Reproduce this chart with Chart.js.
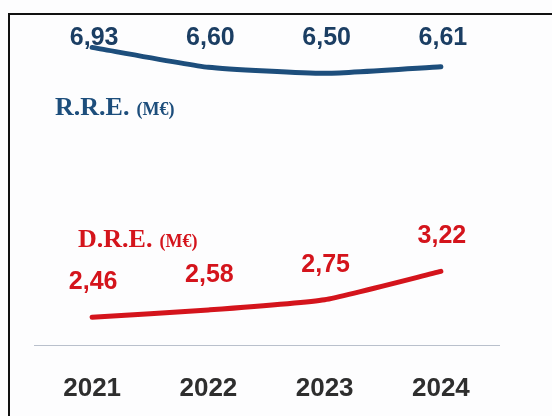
<!DOCTYPE html>
<html>
<head>
<meta charset="utf-8">
<script src="https://cdn.jsdelivr.net/npm/chart.js@4/dist/chart.umd.min.js"></script>
<style>
html,body{margin:0;padding:0;background:#fff;}
#wrap{width:552px;height:416px;position:relative;}
</style>
</head>
<body>
<div id="wrap"><canvas id="c" width="552" height="416"></canvas></div>
<script>
const years = ["2021", "2022", "2023", "2024"];
const rreValues = [6.93, 6.60, 6.50, 6.61];
const dreValues = [2.46, 2.58, 2.75, 3.22];
const rreTitle = "R.R.E.";
const dreTitle = "D.R.E.";
const unitLabel = "(M€)";

const BLUE = "#1d4e7c";
const BLUE_TXT = "#1b3e63";
const RED = "#d4141c";

function fmt(v){ return v.toFixed(2).replace(".", ","); }

const framePlugin = {
  id: "frame",
  beforeDraw(chart){
    const ctx = chart.ctx;
    ctx.save();
    ctx.fillStyle = "#fdfdfe";
    ctx.fillRect(0,0,chart.width,chart.height);
    ctx.strokeStyle = "#111";
    ctx.lineWidth = 2;
    ctx.beginPath();
    ctx.moveTo(9, chart.height);
    ctx.lineTo(9, 14);
    ctx.lineTo(chart.width, 14);
    ctx.stroke();
    ctx.restore();
  }
};

const labelPlugin = {
  id: "labels",
  afterDatasetsDraw(chart){
    const ctx = chart.ctx;
    ctx.save();
    ctx.textAlign = "center";
    ctx.textBaseline = "middle";
    ctx.font = "bold 25px 'Liberation Sans', Arial, sans-serif";
    const m0 = chart.getDatasetMeta(0);
    ctx.fillStyle = BLUE_TXT;
    m0.data.forEach((p,i)=>{
      ctx.fillText(fmt(rreValues[i]), p.x + 2, 38);
    });
    const m1 = chart.getDatasetMeta(1);
    ctx.fillStyle = RED;
    m1.data.forEach((p,i)=>{
      ctx.fillText(fmt(dreValues[i]), p.x + 1, p.y - 35);
    });
    // series titles
    ctx.textAlign = "left";
    ctx.textBaseline = "alphabetic";
    function title(t, x, y, col){
      ctx.fillStyle = col;
      ctx.font = "bold 26px 'Liberation Serif', 'Times New Roman', serif";
      ctx.fillText(t, x, y);
      const w = ctx.measureText(t).width;
      ctx.font = "bold 18px 'Liberation Serif', 'Times New Roman', serif";
      ctx.fillText(unitLabel, x + w + 7, y);
    }
    title(rreTitle, 55, 115, BLUE);
    title(dreTitle, 78, 247, RED);
    ctx.restore();
  }
};

new Chart(document.getElementById("c"), {
  type: "line",
  data: {
    labels: years,
    datasets: [
      { data: rreValues, borderColor: BLUE, borderWidth: 5, pointRadius: 0, tension: 0.15, borderCapStyle: "round", borderJoinStyle: "round" },
      { data: dreValues, borderColor: RED, borderWidth: 5, pointRadius: 0, tension: 0.15, borderCapStyle: "round", borderJoinStyle: "round" }
    ]
  },
  options: {
    responsive: false,
    animation: false,
    devicePixelRatio: 1,
    layout: { padding: { left: 34, right: 53, top: 13, bottom: 0 } },
    plugins: { legend: { display: false }, tooltip: { enabled: false } },
    scales: {
      x: {
        offset: true,
        grid: { display: true, color: "rgba(0,0,0,0)", drawTicks: false, drawOnChartArea: false },
        border: { display: true, color: "#b9c0cc", width: 1, dash: [2, 2] },
        ticks: { color: "#2e2e2e", font: { family: "'Liberation Sans', Arial, sans-serif", size: 26, weight: "bold" }, padding: 28 },
        afterFit(scale){ scale.height = 71; }
      },
      y: {
        display: false,
        min: 2,
        max: 7.5
      }
    }
  },
  plugins: [framePlugin, labelPlugin]
});
</script>
</body>
</html>
